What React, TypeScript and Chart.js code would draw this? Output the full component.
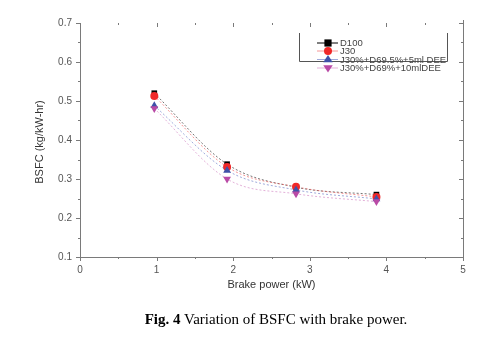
import React, { useEffect, useRef } from "react";
import { Chart, registerables } from "chart.js";

Chart.register(...registerables);

const powerKW = [0.97, 1.92, 2.82, 3.87];
const d100 = [0.52, 0.338, 0.279, 0.26];
const j30 = [0.513, 0.331, 0.28, 0.254];
const j30d695 = [0.488, 0.322, 0.272, 0.249];
const j30d69 = [0.481, 0.3, 0.262, 0.242];
const seriesLabels = ["D100", "J30", "J30%+D69.5%+5ml DEE", "J30%+D69%+10mlDEE"];
const xTicks = [0, 1, 2, 3, 4, 5];
const yTicks = [0.1, 0.2, 0.3, 0.4, 0.5, 0.6, 0.7];

const markerColors = ["#000000", "#f02828", "#3f51a8", "#b94aa6"];
const lineColors = ["rgba(60,60,60,0.7)", "rgba(240,80,80,0.6)", "rgba(80,100,190,0.55)", "rgba(200,100,180,0.5)"];
const styles: any[] = ["rect", "circle", "triangle", "triangle"];
const rotations = [0, 0, 0, 180];
const radii = [4, 4, 4.5, 4.5];

function drawMarker(ctx: any, style: string, rot: number, x: number, y: number, r: number) {
  ctx.beginPath();
  if (style === "rect") {
    const s = r * 0.9;
    ctx.rect(x - s, y - s, s * 2, s * 2);
  } else if (style === "circle") {
    ctx.arc(x, y, r, 0, Math.PI * 2);
  } else {
    const dir = rot === 180 ? -1 : 1;
    ctx.moveTo(x, y - dir * r);
    ctx.lineTo(x - r * 1.05, y + dir * r * 0.6);
    ctx.lineTo(x + r * 1.05, y + dir * r * 0.6);
    ctx.closePath();
  }
  ctx.fill();
}

const axesPlugin = {
  id: "customAxes",
  afterDraw(chart: any) {
    const ctx = chart.ctx;
    const xs = chart.scales.x;
    const ys = chart.scales.y;
    const { left, right, top, bottom } = chart.chartArea;
    ctx.save();
    ctx.strokeStyle = "#7a7a7a";
    ctx.lineWidth = 1;
    ctx.beginPath();
    ctx.moveTo(left + 0.5, top);
    ctx.lineTo(left + 0.5, bottom + 0.5);
    ctx.lineTo(right + 0.5, bottom + 0.5);
    ctx.moveTo(right + 0.5, bottom + 0.5);
    ctx.lineTo(right + 0.5, top - 3);
    ctx.stroke();
    ctx.beginPath();
    for (let v = 0; v <= 5.0001; v += 0.5) {
      const px = Math.round(xs.getPixelForValue(v)) + 0.5;
      const major = Math.abs(v - Math.round(v)) < 1e-6;
      const len = major ? 4 : 2;
      ctx.moveTo(px, bottom);
      ctx.lineTo(px, bottom + len);
      ctx.moveTo(px, top);
      ctx.lineTo(px, top + len);
    }
    for (let i = 0; i <= 12; i++) {
      const v = 0.1 + i * 0.05;
      const py = Math.round(ys.getPixelForValue(v)) + 0.5;
      const major = i % 2 === 0;
      const len = major ? 4 : 2;
      ctx.moveTo(left, py);
      ctx.lineTo(left - len, py);
      ctx.moveTo(right, py);
      ctx.lineTo(right - len, py);
    }
    ctx.stroke();
    ctx.fillStyle = "#555";
    ctx.font = "10px 'Liberation Sans', Arial, sans-serif";
    ctx.textAlign = "center";
    ctx.textBaseline = "middle";
    xTicks.forEach((v) => {
      ctx.fillText(String(v), xs.getPixelForValue(v), bottom + 13);
    });
    ctx.textAlign = "right";
    yTicks.forEach((v) => {
      ctx.fillText(v.toFixed(1), left - 8, ys.getPixelForValue(v));
    });
    ctx.fillStyle = "#333";
    ctx.font = "11px 'Liberation Sans', Arial, sans-serif";
    ctx.textAlign = "center";
    ctx.fillText("Brake power (kW)", (left + right) / 2, bottom + 28);
    ctx.save();
    ctx.translate(40, 142);
    ctx.rotate(-Math.PI / 2);
    ctx.fillText("BSFC (kg/kW-hr)", 0, 0);
    ctx.restore();
    // legend
    const bx = 299.5, by = 33, bw = 148, bh = 28.5;
    ctx.strokeStyle = "#555";
    ctx.beginPath();
    ctx.moveTo(bx, by);
    ctx.lineTo(bx, by + bh);
    ctx.lineTo(bx + bw, by + bh);
    ctx.lineTo(bx + bw, by);
    ctx.stroke();
    const rowY = [43, 51, 59.5, 68];
    ctx.font = "9.5px 'Liberation Sans', Arial, sans-serif";
    ctx.textAlign = "left";
    chart.data.datasets.forEach((ds: any, i: number) => {
      const y = rowY[i];
      ctx.strokeStyle = i === 0 ? "#000" : lineColors[i];
      ctx.lineWidth = 1;
      ctx.beginPath();
      ctx.moveTo(317, y);
      ctx.lineTo(338, y);
      ctx.stroke();
      ctx.fillStyle = markerColors[i];
      drawMarker(ctx, styles[i], rotations[i], 328, y, radii[i]);
      ctx.fillStyle = "#444";
      ctx.fillText(ds.label, 340, y + 0.5);
    });
    ctx.restore();
  },
};

export default function App() {
  const ref = useRef<HTMLCanvasElement>(null);
  useEffect(() => {
    if (!ref.current) return;
    const all = [d100, j30, j30d695, j30d69];
    const chart = new Chart(ref.current, {
      type: "line",
      data: {
        datasets: all.map((vals, i) => ({
          label: seriesLabels[i],
          data: vals.map((v, k) => ({ x: powerKW[k], y: v })),
          borderColor: lineColors[i],
          borderWidth: 1,
          borderDash: [2, 2],
          cubicInterpolationMode: "monotone",
          pointStyle: styles[i],
          rotation: rotations[i],
          pointRadius: radii[i],
          pointBackgroundColor: markerColors[i],
          pointBorderColor: markerColors[i],
          pointBorderWidth: 0,
          order: 4 - i,
          fill: false,
        })),
      },
      options: {
        animation: false,
        responsive: false,
        layout: { padding: { left: 80, right: 31, top: 23, bottom: 80 } },
        plugins: { legend: { display: false }, tooltip: { enabled: false } },
        scales: {
          x: { type: "linear", min: 0, max: 5, display: false },
          y: { type: "linear", min: 0.1, max: 0.7, display: false },
        },
      },
      plugins: [axesPlugin],
    });
    return () => chart.destroy();
  }, []);
  return (
    <div style={{ position: "fixed", left: 0, top: 0, width: 494, height: 337, background: "#fff" }}>
      <canvas ref={ref} width={494} height={337} style={{ position: "absolute", left: 0, top: 0 }} />
      <div
        style={{
          position: "absolute",
          left: 0,
          width: 552,
          top: 311,
          textAlign: "center",
          fontFamily: "'Liberation Serif', 'DejaVu Serif', serif",
          fontSize: 15,
          color: "#000",
          whiteSpace: "nowrap",
        }}
      >
        <b>Fig. 4</b> Variation of BSFC with brake power.
      </div>
    </div>
  );
}
